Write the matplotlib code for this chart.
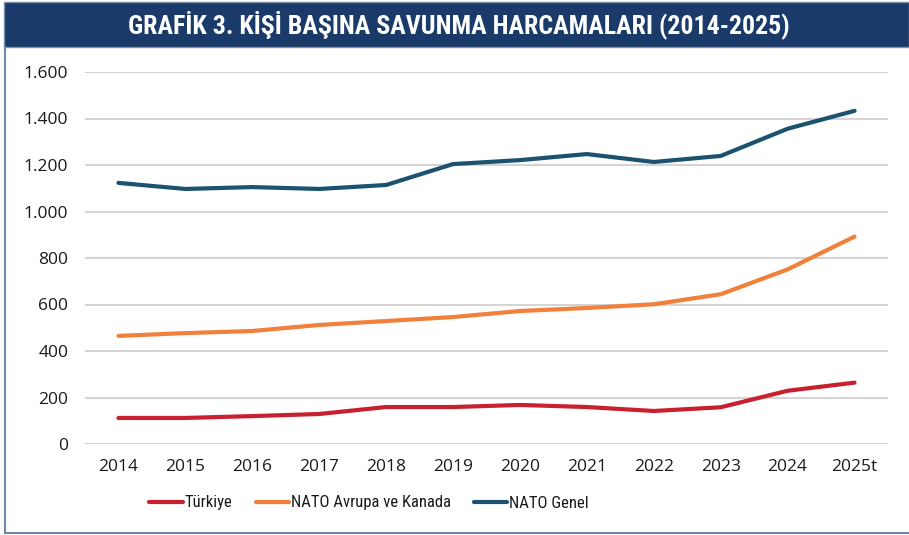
import matplotlib
matplotlib.use("Agg")
import matplotlib.pyplot as plt
from matplotlib.patches import Rectangle
from matplotlib.lines import Line2D
from matplotlib import font_manager

years = ["2014", "2015", "2016", "2017", "2018", "2019", "2020", "2021", "2022", "2023", "2024", "2025t"]
turkiye = [112, 112, 120, 129, 159, 159, 168, 159, 142, 158, 229, 264]
nato_avrupa = [465, 477, 486, 512, 529, 546, 572, 585, 601, 644, 751, 892]
nato_genel = [1123, 1097, 1105, 1097, 1114, 1204, 1221, 1247, 1213, 1239, 1356, 1433]
yticks = [0, 200, 400, 600, 800, 1000, 1200, 1400, 1600]
ytick_labels = ["0", "200", "400", "600", "800", "1.000", "1.200", "1.400", "1.600"]
title = "GRAFİK 3. KİŞİ BAŞINA SAVUNMA HARCAMALARI (2014-2025)"
series_names = ["Türkiye", "NATO Avrupa ve Kanada", "NATO Genel"]

installed = {f.name for f in font_manager.fontManager.ttflist}
narrow = None
for cand in ["Liberation Sans Narrow", "Roboto Condensed", "Open Sans Condensed", "Noto Sans Condensed", "Roboto"]:
    if cand in installed:
        narrow = cand
        break
if narrow is None:
    narrow = "DejaVu Sans"

W, H = 909, 535
fig = plt.figure(figsize=(W / 100, H / 100), dpi=100)
fig.patch.set_facecolor("white")

def fx(px):
    return px / W

def fy(py):
    return 1 - py / H

# title band
fig.patches.append(Rectangle((fx(4), fy(47)), fx(905), 45 / H, transform=fig.transFigure,
                             facecolor="#1a3a6a", edgecolor="#7d8fa8", linewidth=1, zorder=0))
ttl = fig.text(0.505, fy(25), title, ha="center", va="center", color="white", fontsize=15.5,
               fontweight="bold", family=[narrow, "DejaVu Sans"])
fig.canvas.draw()
r = fig.canvas.get_renderer()
w = ttl.get_window_extent(r).width
ttl.set_fontsize(15.5 * 660 / w)

# frame lines
fig.add_artist(Line2D([fx(5), fx(5)], [fy(47), fy(533)], transform=fig.transFigure,
                      color="#6f88a8", linewidth=1.5))
fig.add_artist(Line2D([fx(5), fx(909)], [fy(533), fy(533)], transform=fig.transFigure,
                      color="#6f88a8", linewidth=1.5))

x = list(range(len(years)))
ax = fig.add_axes([fx(85), fy(444), fx(888) - fx(85), (444 - 72) / H])
ax.set_ylim(0, 1600)
ax.set_xlim(-0.5, 11.5)
colors = ["#c8202f", "#f0803c", "#1b5270"]
for vals, c, n in zip([turkiye, nato_avrupa, nato_genel], colors, series_names):
    ax.plot(x, vals, color=c, linewidth=3, solid_capstyle="round", label=n, zorder=3)

ax.set_yticks(yticks)
ax.set_yticklabels(ytick_labels)
ax.set_xticks(x)
ax.set_xticklabels(years)
ax.grid(axis="y", color="#d4d4d4", linewidth=1.5)
ax.set_axisbelow(True)
for s in ax.spines.values():
    s.set_visible(False)
ax.tick_params(length=0, labelsize=12.5, colors="#1a1a1a")
ax.tick_params(axis="y", pad=12)
ax.tick_params(axis="x", pad=11)
for lab in ax.get_xticklabels() + ax.get_yticklabels():
    lab.set_family(["Open Sans", "DejaVu Sans"])

leg = fig.legend(loc="center", bbox_to_anchor=(fx(369), fy(503)), ncol=3, frameon=False,
                 handlelength=2.0, handletextpad=0.1, columnspacing=1.4,
                 prop={"family": [narrow, "DejaVu Sans"], "size": 12})
for t in leg.get_texts():
    t.set_color("#1a1a1a")

fig.savefig("out.png", dpi=100)
